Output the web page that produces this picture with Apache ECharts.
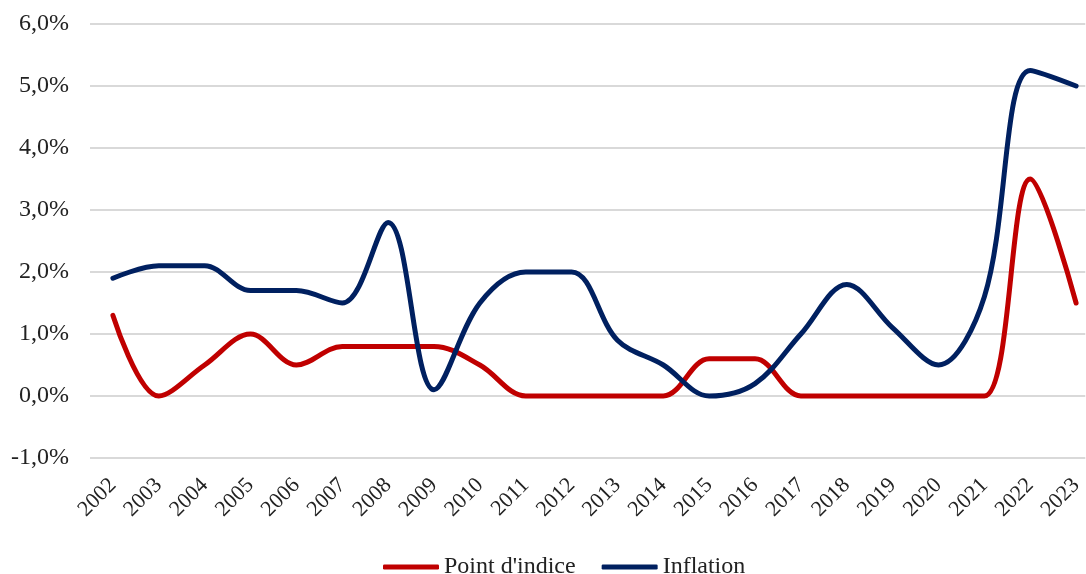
<!DOCTYPE html>
<html><head><meta charset="utf-8">
<script src="https://cdn.jsdelivr.net/npm/echarts@6/dist/echarts.min.js"></script>
<style>html,body{margin:0;padding:0;background:#fff}#c{width:1086px;height:574px}</style>
</head><body><div id="c"></div>
<script>
const years = ['2002','2003','2004','2005','2006','2007','2008','2009','2010','2011','2012','2013','2014','2015','2016','2017','2018','2019','2020','2021','2022','2023'];
const pointIndice = [1.3,0.0,0.5,1.0,0.5,0.8,0.8,0.8,0.5,0.0,0.0,0.0,0.0,0.6,0.6,0.0,0.0,0.0,0.0,0.0,3.5,1.5];
const inflation = [1.9,2.1,2.1,1.7,1.7,1.5,2.8,0.1,1.5,2.0,2.0,0.9,0.5,0.0,0.2,1.0,1.8,1.1,0.5,1.6,5.25,5.0];
const yTicks = {min:-1, max:6, interval:1};
const font = '"Liberation Serif", "Times New Roman", serif';
const idx = years.map((_, i) => i);
const chart = echarts.init(document.getElementById('c'));
chart.setOption({
  animation:false,
  grid:{left:90, right:0, top:24, bottom:116, containLabel:false},
  legend:{top:550, left:378, itemWidth:56, itemHeight:5, itemGap:26, icon:'roundRect',
    textStyle:{fontFamily:font, fontSize:24, color:'#222'},
    data:['Point d\'indice','Inflation']},
  xAxis:{type:'value', min:-0.5, max:21.2,
    axisLine:{show:false}, axisTick:{show:false}, splitLine:{show:false},
    axisLabel:{customValues:idx, rotate:45, fontFamily:font, fontSize:22, color:'#222', margin:24,
      formatter:v=>years[Math.round(v)]}},
  yAxis:{type:'value', min:yTicks.min, max:yTicks.max, interval:yTicks.interval,
    axisLine:{show:false}, axisTick:{show:false},
    splitLine:{lineStyle:{color:'#d9d9d9', width:2}},
    axisLabel:{fontFamily:font, fontSize:24, color:'#222', margin:21,
      formatter:v=>v.toFixed(1).replace('.',',')+'%'}},
  series:[
    {name:'Point d\'indice', type:'line', data:pointIndice.map((v,i)=>[i,v]), smooth:0.35, symbol:'none',
      lineStyle:{color:'#C00000', width:5, cap:'round'}, itemStyle:{color:'#C00000'}},
    {name:'Inflation', type:'line', data:inflation.map((v,i)=>[i,v]), smooth:0.35, symbol:'none',
      lineStyle:{color:'#002060', width:5, cap:'round'}, itemStyle:{color:'#002060'}}
  ]
});
</script></body></html>
